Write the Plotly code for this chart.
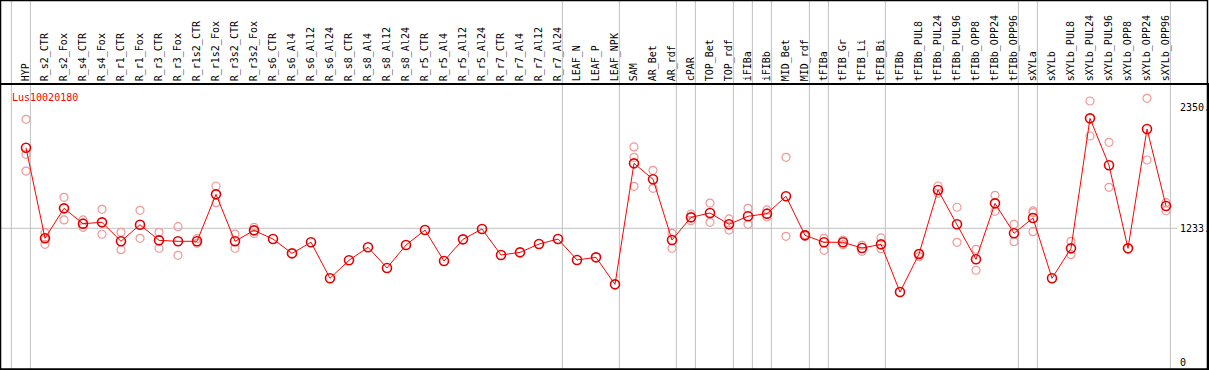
import plotly.graph_objects as go

categories = ["HYP", "R_s2_CTR", "R_s2_Fox", "R_s4_CTR", "R_s4_Fox", "R_r1_CTR", "R_r1_Fox",
              "R_r3_CTR", "R_r3_Fox", "R_r1s2_CTR", "R_r1s2_Fox", "R_r3s2_CTR", "R_r3s2_Fox",
              "R_s6_CTR", "R_s6_Al4", "R_s6_Al12", "R_s6_Al24", "R_s8_CTR", "R_s8_Al4", "R_s8_Al12",
              "R_s8_Al24", "R_r5_CTR", "R_r5_Al4", "R_r5_Al12", "R_r5_Al24", "R_r7_CTR", "R_r7_Al4",
              "R_r7_Al12", "R_r7_Al24", "LEAF_N", "LEAF_P", "LEAF_NPK", "SAM", "AR_Bet", "AR_rdf",
              "cPAR", "TOP_Bet", "TOP_rdf", "iFIBa", "iFIBb", "MID_Bet", "MID_rdf", "tFIBa",
              "tFIB_Gr", "tFIB_Li", "tFIB_Bi", "tFIBb", "tFIBb_PUL8", "tFIBb_PUL24", "tFIBb_PUL96",
              "tFIBb_OPP8", "tFIBb_OPP24", "tFIBb_OPP96", "sXYLa", "sXYLb", "sXYLb_PUL8",
              "sXYLb_PUL24", "sXYLb_PUL96", "sXYLb_OPP8", "sXYLb_OPP24", "sXYLb_OPP96"]

means = [1976, 1141, 1417, 1276, 1288, 1113, 1266, 1122, 1113, 1113, 1546, 1113, 1214,
         1134, 1002, 1104, 772, 938, 1058, 867, 1079, 1217, 931, 1131, 1227, 987, 1011,
         1088, 1134, 941, 965, 716, 1832, 1685, 1125, 1334, 1374, 1270, 1344, 1368, 1528,
         1168, 1104, 1104, 1051, 1085, 645, 996, 1586, 1270, 947, 1463, 1187, 1328, 772,
         1048, 2247, 1814, 1048, 2149, 1439]

replicates = [[2238, 1915, 1761], [1193, 1145, 1085], [1519, 1310], [1310, 1242], [1408, 1178],
              [1196, 1036], [1399, 1141], [1196, 1049], [1248, 984], [1137, 1095], [1623, 1469],
              [1180, 1049], [1242, 1185], [], [], [], [], [], [], [], [], [], [], [], [], [], [],
              [], [], [], [], [], [1983, 1888, 1620], [1768, 1602], [1187, 1049], [1365, 1303],
              [1466, 1288], [1319, 1217], [1417, 1270], [1402, 1337], [1888, 1159], [1175, 1162],
              [1141, 1030], [1125, 1082], [1076, 1021], [1144, 1045], [], [971, 1000],
              [1623, 1556], [1427, 1104], [1039, 846], [1537, 1390], [1270, 1110],
              [1393, 1377, 1202], [], [1113, 990], [2407, 2084], [2026, 1611], [],
              [2432, 1863], [1469, 1395]]

group_ends = [-1, 0, 28, 31, 34, 35, 37, 38, 39, 41, 42, 45, 52, 53, 60]
ytick_vals = [0, 1233, 2350]
ytick_text = ["0", "1233.", "2350."]
gene = "Lus10020180"

idx = list(range(len(categories)))
rx, ry = [], []
for i, reps in enumerate(replicates):
    for v in reps:
        rx.append(i)
        ry.append(v)

W, H = 1209, 370
ml, mr, mt, mb = 1, 2, 85, 1
px_per_cat = 19.0
first_px = 26.0
xmin = -(first_px - ml) / px_per_cat
xmax = xmin + (W - ml - mr) / px_per_cat
ppu = 133.7 / 1233.0
zero_px = 362.0
ymin = -(H - mb - zero_px) / ppu
ymax = (zero_px - mt) / ppu

fig = go.Figure()
fig.add_trace(go.Scatter(x=rx, y=ry, mode="markers",
                         marker=dict(symbol="circle-open", size=8, color="#f09898",
                                     line=dict(width=1.2, color="#f09898")),
                         hoverinfo="y", showlegend=False))
fig.add_trace(go.Scatter(x=idx, y=means, mode="lines+markers",
                         line=dict(color="#ff0000", width=1),
                         marker=dict(symbol="circle-open", size=9, color="#e00000",
                                     line=dict(width=1.6, color="#e00000")),
                         hoverinfo="y", showlegend=False))

shapes = []
top_paper = 1 + mt / (H - mt - mb)
for g in group_ends:
    shapes.append(dict(type="line", xref="x", yref="paper", x0=g + 0.23, x1=g + 0.23,
                       y0=0, y1=top_paper, line=dict(color="#c0c0c0", width=1), layer="below"))
shapes.append(dict(type="line", xref="paper", yref="y", x0=0,
                   x1=(60.6 - xmin) / (xmax - xmin), y0=1233, y1=1233,
                   line=dict(color="#c0c0c0", width=1), layer="below"))
shapes.append(dict(type="rect", xref="paper", yref="paper", x0=-0.0004, x1=1.0004, y0=0,
                   y1=top_paper - 0.002,
                   line=dict(color="black", width=1.5), fillcolor="rgba(0,0,0,0)"))

annotations = []
for v, t in zip(ytick_vals, ytick_text):
    annotations.append(dict(x=60.63, y=v, xref="x", yref="y", text=t, showarrow=False,
                            xanchor="left", yanchor="middle",
                            font=dict(family="DejaVu Sans Mono", size=10, color="black")))
annotations.append(dict(x=-0.86, y=(zero_px - 97.7) / ppu, xref="x", yref="y", text=gene,
                        showarrow=False, xanchor="left", yanchor="middle",
                        font=dict(family="DejaVu Sans Mono", size=10, color="#ff0000")))

fig.update_layout(
    width=W, height=H, margin=dict(l=ml, r=mr, t=mt, b=mb, pad=0),
    paper_bgcolor="white", plot_bgcolor="white",
    shapes=shapes, annotations=annotations,
    xaxis=dict(range=[xmin, xmax], side="top", tickmode="array", tickvals=idx,
               ticktext=categories, tickangle=-90, showgrid=False, zeroline=False,
               showline=True, linecolor="black", linewidth=1.5, mirror=True, ticks="",
               automargin=False,
               tickfont=dict(family="DejaVu Sans Mono", size=10, color="black")),
    yaxis=dict(range=[ymin, ymax], showgrid=False, zeroline=False, showticklabels=False,
               showline=True, linecolor="black", linewidth=1.5, mirror=True, ticks="",
               automargin=False),
)

fig.write_html("out.html", config={"displayModeBar": False},
               post_script="document.body.style.margin='0';document.body.style.overflow='hidden';")
